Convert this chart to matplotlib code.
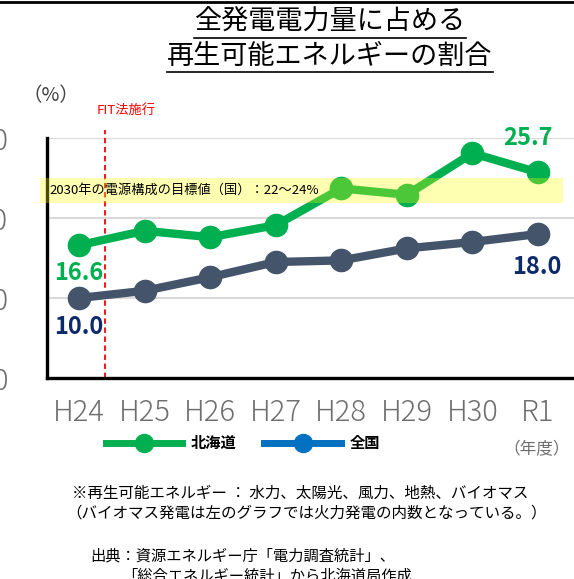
import matplotlib
matplotlib.use("Agg")
import matplotlib.pyplot as plt
from matplotlib.lines import Line2D
from matplotlib.patches import Rectangle

plt.rcParams['font.family'] = ['Noto Sans CJK JP', 'DejaVu Sans']

years = ["H24", "H25", "H26", "H27", "H28", "H29", "H30", "R1"]
hokkaido = [16.6, 18.4, 17.6, 19.1, 23.7, 22.9, 28.1, 25.7]
national = [10.0, 10.9, 12.6, 14.5, 14.7, 16.2, 17.0, 18.0]
yticks = [0, 10, 20, 30]
target_lo, target_hi = 21.9, 25.0
fit_x = 0.4

GREEN = "#00B050"
NAVY_LINE = "#44546A"
NAVY_TXT = "#0E2A6B"
LEG_BLUE = "#0070C0"
GRAY = "#6E6E6E"

fig = plt.figure(figsize=(5.74, 5.79), dpi=100)
ax = fig.add_axes([47/574, 1-378/579, 1-47/574, (378-138)/579])

x = list(range(len(years)))
ax.plot(x, national, color=NAVY_LINE, lw=6, marker='o', ms=16, zorder=3, solid_capstyle='round')
ax.plot(x, hokkaido, color=GREEN, lw=6, marker='o', ms=16, zorder=4, solid_capstyle='round')

ax.set_xlim(-0.49, 7.55)
ax.set_ylim(0, 30)
ax.set_yticks(yticks)
ax.set_yticklabels([str(t) for t in yticks])
ax.set_xticks(x)
ax.set_xticklabels(years)
ax.tick_params(axis='y', length=0, pad=28, labelsize=21, labelcolor=GRAY)
ax.tick_params(axis='x', length=0, pad=14, labelsize=21, labelcolor=GRAY)
for lab in ax.get_xticklabels() + ax.get_yticklabels():
    lab.set_fontweight('light')
ax.grid(axis='y', color='#D9D9D9', lw=1.5, zorder=0)
ax.set_axisbelow(True)
for s in ['top', 'right']:
    ax.spines[s].set_visible(False)
for s in ['left', 'bottom']:
    ax.spines[s].set_color('black')
    ax.spines[s].set_linewidth(2.4)

# target band
ax.add_patch(Rectangle((-0.6, target_lo), 7.98, target_hi - target_lo, facecolor='#FFFF00',
                       alpha=0.3, edgecolor='none', zorder=5, clip_on=False))
ax.text(-0.45, (target_lo + target_hi) / 2, "2030年の電源構成の目標値（国）：22〜24%",
        fontsize=9.5, color='black', va='center', ha='left', zorder=6)

# FIT line
ax.plot([fit_x, fit_x], [0, 31], color='#FF0000', lw=1.3, ls=(0, (3, 2)), clip_on=False, zorder=2)
fig.text(97/574, 1-110/579, "FIT法施行", color='#FF0000', fontsize=9.5, va='center', ha='left')

# data labels
lab_kw = dict(ha='center', va='center', fontsize=17, fontweight='semibold', textcoords='offset points',
              annotation_clip=False)
ax.annotate(f"{hokkaido[0]:.1f}", (0, hokkaido[0]), xytext=(0, -20), color=GREEN, **lab_kw)
ax.annotate(f"{national[0]:.1f}", (0, national[0]), xytext=(0, -21), color=NAVY_TXT, **lab_kw)
ax.annotate(f"{hokkaido[-1]:.1f}", (7, hokkaido[-1]), xytext=(-7, 25), color=GREEN, **lab_kw)
ax.annotate(f"{national[-1]:.1f}", (7, national[-1]), xytext=(-1, -24), color=NAVY_TXT, **lab_kw)

# legend
handles = [Line2D([], [], color=GREEN, lw=5, marker='o', ms=13),
           Line2D([], [], color=LEG_BLUE, lw=5, marker='o', ms=13)]
leg = fig.legend(handles, ["北海道", "全国"], loc='center', bbox_to_anchor=(243/574, 1-443/579),
                 ncol=2, frameon=False, handlelength=5.0, handletextpad=0.6, columnspacing=1.8,
                 prop={'size': 11, 'weight': 'bold'})

fig.text(570/574, 1-450/579, "（年度）", fontsize=12, color=GRAY, ha='right', va='center')
fig.text(22/574, 1-96/579, "（%）", fontsize=14, color='#404040', ha='left', va='center')

# title
t1 = fig.text(330/574, 1-22/579, "全発電電力量に占める", fontsize=19.5, ha='center', va='center', color='black')
t2 = fig.text(330/574, 1-56/579, "再生可能エネルギーの割合", fontsize=19.5, ha='center', va='center', color='black')
fig.canvas.draw()
r = fig.canvas.get_renderer()
for t in (t1, t2):
    bb = t.get_window_extent(r).transformed(fig.transFigure.inverted())
    fig.add_artist(Line2D([bb.x0, bb.x1], [bb.y0 - 0.004, bb.y0 - 0.004], color='black', lw=1.2,
                          transform=fig.transFigure))

# top border
fig.add_artist(Line2D([0, 1], [1-2/579, 1-2/579], color='black', lw=2, transform=fig.transFigure))

# notes
fig.text(72/574, 1-493/579, "※再生可能エネルギー ： 水力、太陽光、風力、地熱、バイオマス",
         fontsize=11.2, ha='left', va='center', color='black')
fig.text(66/574, 1-513/579, "（バイオマス発電は左のグラフでは火力発電の内数となっている。）",
         fontsize=11.2, ha='left', va='center', color='black')
fig.text(90/574, 1-556/579, "出典：資源エネルギー庁「電力調査統計」、",
         fontsize=11, ha='left', va='center', color='black')
fig.text(122/574, 1-576/579, "「総合エネルギー統計」から北海道局作成",
         fontsize=11, ha='left', va='center', color='black')

fig.savefig("out.png", dpi=100)
